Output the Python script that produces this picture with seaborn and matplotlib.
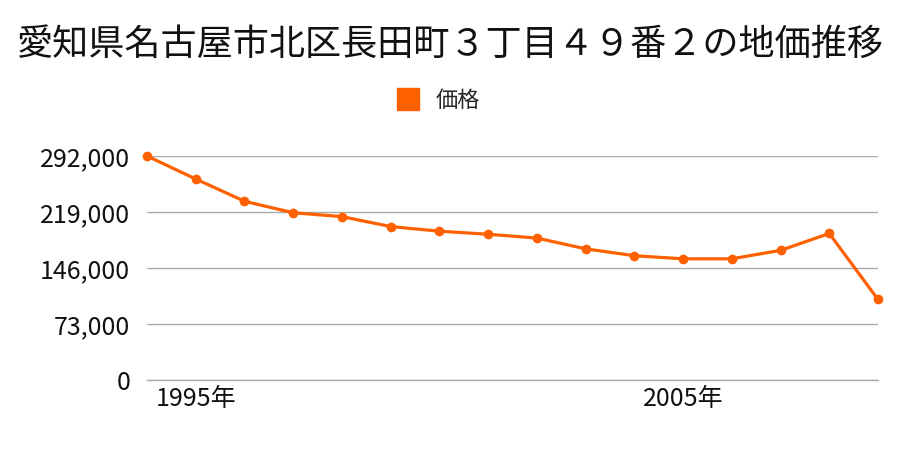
import matplotlib
matplotlib.use("Agg")
import matplotlib.pyplot as plt
import seaborn as sns
import pandas as pd

title = "愛知県名古屋市北区長田町３丁目４９番２の地価推移"
series_name = "価格"
years = [1994, 1995, 1996, 1997, 1998, 1999, 2000, 2001, 2002, 2003,
         2004, 2005, 2006, 2007, 2008, 2009]
prices = [292000, 262000, 233000, 218000, 213000, 200000, 194000, 190000,
          185000, 171000, 162000, 158000, 158000, 169000, 191000, 105000]
y_ticks = [0, 73000, 146000, 219000, 292000]
x_ticks = [1995, 2005]
x_tick_labels = ["1995年", "2005年"]

sns.set_theme(style="white")
plt.rcParams['font.family'] = ['Noto Sans CJK JP', 'DejaVu Sans']

color = "#ff6000"
df = pd.DataFrame({"year": years, series_name: prices})

fig = plt.figure(figsize=(9, 4.5), dpi=100)
ax = fig.add_axes([147/900, 1-380/450, (878-147)/900, (380-156)/450])

sns.lineplot(data=df, x="year", y=series_name, ax=ax, color=color,
             linewidth=2.3, marker="o", markersize=7, markeredgewidth=0,
             label=series_name, clip_on=False, zorder=3)

ax.set_xlim(years[0], years[-1])
ax.set_ylim(0, y_ticks[-1])
ax.set_yticks(y_ticks)
ax.set_yticklabels([f"{v:,}" for v in y_ticks], fontsize=18)
ax.set_xticks(x_ticks)
ax.set_xticklabels(x_tick_labels, fontsize=18)
ax.tick_params(axis='both', length=0, colors="#111111")
ax.tick_params(axis='y', pad=12)
ax.tick_params(axis='x', pad=4)
ax.set_xlabel("")
ax.set_ylabel("")
ax.grid(axis='y', color="#aaaaaa", linewidth=1)
ax.grid(axis='x', visible=False)
for s in ["top", "right", "left"]:
    ax.spines[s].set_visible(False)
ax.spines["bottom"].set_color("#aaaaaa")
ax.spines["bottom"].set_linewidth(1)

handle = plt.Line2D([], [], marker="s", linestyle="none", color=color,
                    markersize=16)
ax.legend([handle], [series_name], loc="center", bbox_to_anchor=(0.481, 1-100/450),
          bbox_transform=fig.transFigure, frameon=False, fontsize=16,
          handletextpad=0.2)

fig.text(0.5, 1-45/450, title, ha="center", va="center", fontsize=26,
         color="#111111")

fig.savefig("out.png", dpi=100)
